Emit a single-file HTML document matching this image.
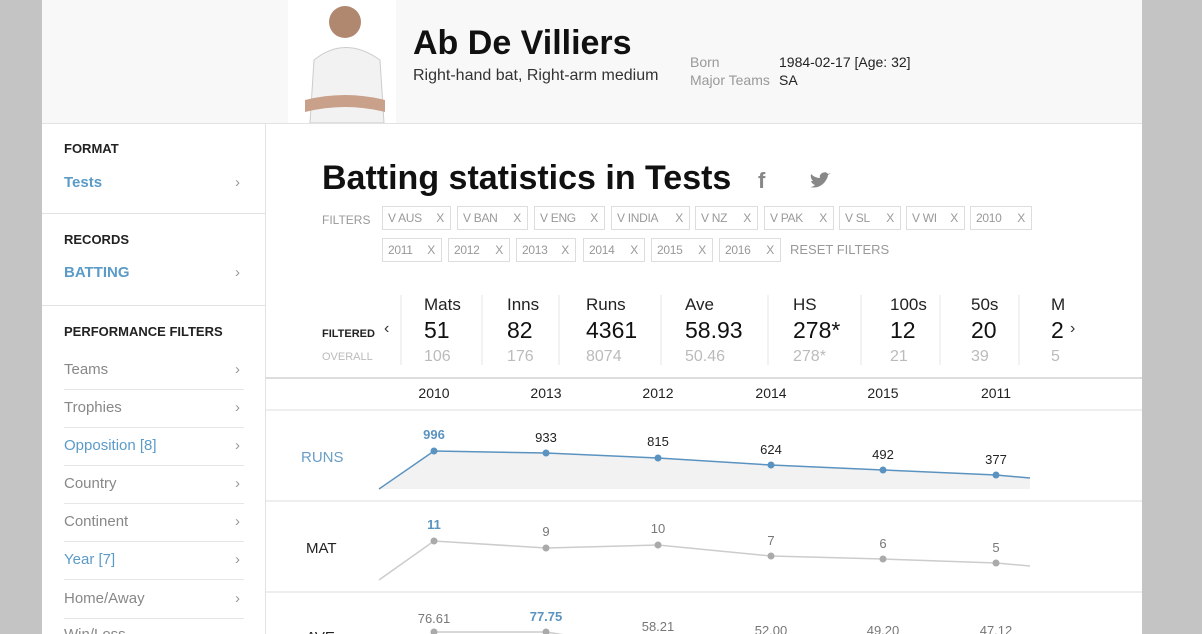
<!DOCTYPE html><html style="overflow:hidden;height:634px"><head><style>
body{margin:0;width:1202px;height:634px;overflow:hidden;background:#c4c4c4;font-family:"Liberation Sans",sans-serif;position:relative}
.pg{position:absolute;left:42px;top:0;width:1100px;height:634px;background:#fff}
.a{position:absolute;white-space:nowrap}
.chip{position:absolute;height:24px;border:1px solid #ddd;font-size:12px;color:#999;line-height:22px;padding:0 5px;box-sizing:border-box;white-space:nowrap;overflow:hidden;letter-spacing:-0.3px}
.chip b{position:absolute;right:6px;top:0;font-weight:normal}
.sb{position:absolute;left:64px;font-size:15px;color:#888}
.ch{position:absolute;left:235px;font-size:15px;color:#999}
.hl{position:absolute;left:64px;width:180px;border-top:1px solid #e6e6e6}
</style></head><body>
<div class="pg"></div>
<div class="a" style="left:42px;top:0;width:1100px;height:123px;background:#f8f8f8;border-bottom:1px solid #e2e2e2"></div>
<div class="a" style="left:288px;top:0;width:108px;height:123px;background:#fff"></div>
<svg class="a" style="left:300px;top:0" width="90" height="123"><circle cx="45" cy="22" r="16" fill="#b08870"/><path d="M10 123 L14 60 Q45 35 80 60 L84 123Z" fill="#f2f2f2" stroke="#ccc"/><path d="M5 100 Q45 90 85 100 L85 112 Q45 102 5 112Z" fill="#c9a08a"/></svg>
<div class="a" style="left:413px;top:24px;font-size:34px;font-weight:bold;color:#111">Ab De Villiers</div>
<div class="a" style="left:413px;top:67px;font-size:16px;color:#333">Right-hand bat, Right-arm medium</div>
<div class="a" style="left:690px;top:53px;font-size:14px;color:#999;line-height:18px">Born<br>Major Teams</div>
<div class="a" style="left:779px;top:53px;font-size:14px;color:#222;line-height:18px">1984-02-17 [Age: 32]<br>SA</div>
<div class="a" style="left:265px;top:124px;height:510px;border-left:1px solid #e2e2e2"></div>
<div class="a" style="left:64px;top:141px;font-size:13px;font-weight:bold;color:#222">FORMAT</div>
<div class="a" style="left:64px;top:174px;font-size:15px;font-weight:bold;color:#5b9bc8">Tests</div><div class="ch" style="top:174px">›</div>
<div class="a" style="left:42px;top:213px;width:223px;border-top:1px solid #e2e2e2"></div>
<div class="a" style="left:64px;top:232px;font-size:13px;font-weight:bold;color:#222">RECORDS</div>
<div class="a" style="left:64px;top:264px;font-size:15px;font-weight:bold;color:#5b9bc8">BATTING</div><div class="ch" style="top:264px">›</div>
<div class="a" style="left:42px;top:305px;width:223px;border-top:1px solid #e2e2e2"></div>
<div class="a" style="left:64px;top:324px;font-size:13px;font-weight:bold;color:#222">PERFORMANCE FILTERS</div>
<div class="sb" style="top:361px">Teams</div><div class="ch" style="top:361px">›</div><div class="hl" style="top:389px"></div>
<div class="sb" style="top:399px">Trophies</div><div class="ch" style="top:399px">›</div><div class="hl" style="top:427px"></div>
<div class="sb" style="top:437px;color:#5b9bc8">Opposition [8]</div><div class="ch" style="top:437px">›</div><div class="hl" style="top:465px"></div>
<div class="sb" style="top:475px">Country</div><div class="ch" style="top:475px">›</div><div class="hl" style="top:503px"></div>
<div class="sb" style="top:513px">Continent</div><div class="ch" style="top:513px">›</div><div class="hl" style="top:541px"></div>
<div class="sb" style="top:551px;color:#5b9bc8">Year [7]</div><div class="ch" style="top:551px">›</div><div class="hl" style="top:579px"></div>
<div class="sb" style="top:590px">Home/Away</div><div class="ch" style="top:590px">›</div><div class="hl" style="top:618px"></div>
<div class="sb" style="top:626px">Win/Loss</div>
<div class="a" style="left:322px;top:159px;font-size:34px;font-weight:bold;color:#111">Batting statistics in Tests</div>
<div class="a" style="left:758px;top:168px;font-size:22px;font-weight:bold;color:#888">f</div>
<svg class="a" style="left:808px;top:171px" width="24" height="20"><path d="M2 16 Q10 18 16 12 Q20 7 20 4 L23 2 L20 3 Q18 0 14 2 Q11 4 12 7 Q7 7 3 3 Q2 7 5 10 L3 10 Q4 13 7 14 Q5 16 2 16Z" fill="#888"/></svg>
<div class="a" style="left:322px;top:213px;font-size:12px;color:#999">FILTERS</div>
<div class="chip" style="left:382px;top:206px;width:69px">V AUS<b>X</b></div>
<div class="chip" style="left:457px;top:206px;width:71px">V BAN<b>X</b></div>
<div class="chip" style="left:534px;top:206px;width:71px">V ENG<b>X</b></div>
<div class="chip" style="left:611px;top:206px;width:79px">V INDIA<b>X</b></div>
<div class="chip" style="left:695px;top:206px;width:63px">V NZ<b>X</b></div>
<div class="chip" style="left:764px;top:206px;width:70px">V PAK<b>X</b></div>
<div class="chip" style="left:839px;top:206px;width:62px">V SL<b>X</b></div>
<div class="chip" style="left:906px;top:206px;width:59px">V WI<b>X</b></div>
<div class="chip" style="left:970px;top:206px;width:62px">2010<b>X</b></div>
<div class="chip" style="left:382px;top:238px;width:60px">2011<b>X</b></div>
<div class="chip" style="left:448px;top:238px;width:62px">2012<b>X</b></div>
<div class="chip" style="left:516px;top:238px;width:60px">2013<b>X</b></div>
<div class="chip" style="left:583px;top:238px;width:62px">2014<b>X</b></div>
<div class="chip" style="left:651px;top:238px;width:62px">2015<b>X</b></div>
<div class="chip" style="left:719px;top:238px;width:62px">2016<b>X</b></div>
<div class="a" style="left:790px;top:242px;font-size:13px;color:#999">RESET FILTERS</div>
<div class="a" style="left:322px;top:328px;font-size:11px;font-weight:bold;color:#222">FILTERED</div>
<div class="a" style="left:322px;top:351px;font-size:11px;color:#bbb">OVERALL</div>
<div class="a" style="left:384px;top:320px;font-size:16px;color:#333">‹</div>
<div class="a" style="left:1070px;top:320px;font-size:16px;color:#333">›</div>
<svg class="a" style="left:266px;top:290px" width="876" height="344" font-family="Liberation Sans">
<g stroke="#e6e6e6"><line x1="135" y1="5" x2="135" y2="75"/><line x1="216" y1="5" x2="216" y2="75"/><line x1="293" y1="5" x2="293" y2="75"/><line x1="395" y1="5" x2="395" y2="75"/><line x1="502" y1="5" x2="502" y2="75"/><line x1="595" y1="5" x2="595" y2="75"/><line x1="674" y1="5" x2="674" y2="75"/><line x1="753" y1="5" x2="753" y2="75"/></g>
<g font-size="17" fill="#222"><text x="158" y="20">Mats</text><text x="241" y="20">Inns</text><text x="320" y="20">Runs</text><text x="419" y="20">Ave</text><text x="527" y="20">HS</text><text x="624" y="20">100s</text><text x="705" y="20">50s</text><text x="785" y="20">M</text></g>
<g font-size="23" fill="#111"><text x="158" y="48">51</text><text x="241" y="48">82</text><text x="320" y="48">4361</text><text x="419" y="48">58.93</text><text x="527" y="48">278*</text><text x="624" y="48">12</text><text x="705" y="48">20</text><text x="785" y="48">2</text></g>
<g font-size="16" fill="#bbb"><text x="158" y="71">106</text><text x="241" y="71">176</text><text x="320" y="71">8074</text><text x="419" y="71">50.46</text><text x="527" y="71">278*</text><text x="624" y="71">21</text><text x="705" y="71">39</text><text x="785" y="71">5</text></g>
<line x1="0" y1="88" x2="876" y2="88" stroke="#ddd" stroke-width="2"/>
<line x1="0" y1="120" x2="876" y2="120" stroke="#ddd"/>
<line x1="0" y1="211" x2="876" y2="211" stroke="#ddd"/>
<line x1="0" y1="302" x2="876" y2="302" stroke="#ddd"/>
<g font-size="14" fill="#222" text-anchor="middle"><text x="168" y="108">2010</text><text x="280" y="108">2013</text><text x="392" y="108">2012</text><text x="505" y="108">2014</text><text x="617" y="108">2015</text><text x="730" y="108">2011</text></g>
<text x="35" y="172" font-size="15" fill="#6a9ec6">RUNS</text>
<path d="M113 199 L168 161 L280 163 L392 168 L505 175 L617 180 L730 185 L764 188 L764 199Z" fill="#f2f2f2"/>
<polyline points="113,199 168,161 280,163 392,168 505,175 617,180 730,185 764,188" fill="none" stroke="#5b93c0" stroke-width="1.5"/>
<g fill="#5b93c0"><circle cx="168" cy="161" r="3.5"/><circle cx="280" cy="163" r="3.5"/><circle cx="392" cy="168" r="3.5"/><circle cx="505" cy="175" r="3.5"/><circle cx="617" cy="180" r="3.5"/><circle cx="730" cy="185" r="3.5"/></g>
<g font-size="13" fill="#222" text-anchor="middle"><text x="168" y="149" fill="#5b93c0" font-weight="bold">996</text><text x="280" y="152">933</text><text x="392" y="156">815</text><text x="505" y="164">624</text><text x="617" y="169">492</text><text x="730" y="174">377</text></g>
<text x="40" y="263" font-size="15" fill="#222">MAT</text>
<polyline points="113,290 168,251 280,258 392,255 505,266 617,269 730,273 764,276" fill="none" stroke="#ccc" stroke-width="1.5"/>
<g fill="#aaa"><circle cx="168" cy="251" r="3.5"/><circle cx="280" cy="258" r="3.5"/><circle cx="392" cy="255" r="3.5"/><circle cx="505" cy="266" r="3.5"/><circle cx="617" cy="269" r="3.5"/><circle cx="730" cy="273" r="3.5"/></g>
<g font-size="13" fill="#777" text-anchor="middle"><text x="168" y="239" fill="#5b93c0" font-weight="bold">11</text><text x="280" y="246">9</text><text x="392" y="243">10</text><text x="505" y="255">7</text><text x="617" y="258">6</text><text x="730" y="262">5</text></g>
<text x="40" y="352" font-size="15" fill="#222">AVE</text>
<polyline points="168,342 280,342 330,350" fill="none" stroke="#ccc" stroke-width="1.5"/>
<g fill="#aaa"><circle cx="168" cy="342" r="3.5"/><circle cx="280" cy="342" r="3.5"/></g>
<g font-size="13" fill="#777" text-anchor="middle"><text x="168" y="333">76.61</text><text x="280" y="331" fill="#5b93c0" font-weight="bold">77.75</text><text x="392" y="341">58.21</text><text x="505" y="345">52.00</text><text x="617" y="345">49.20</text><text x="730" y="345">47.12</text></g>
</svg>
</body></html>
